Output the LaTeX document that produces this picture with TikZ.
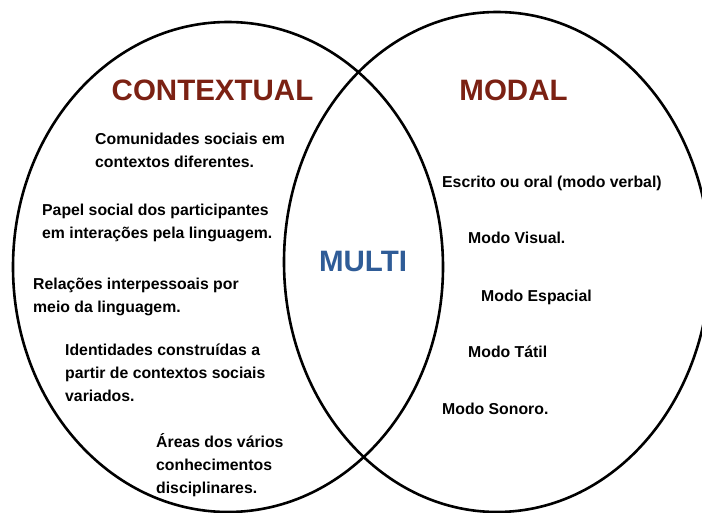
\documentclass[tikz,border=0pt]{standalone}
\usepackage{fontspec}
\setmainfont{Liberation Sans}
\definecolor{titlered}{HTML}{7B2113}
\definecolor{multiblue}{HTML}{2F5C97}
\tikzset{
  ring/.style={draw=black, line width=2.6pt},
  body/.style={font=\bfseries\fontsize{15.8}{23}\selectfont, align=left, anchor=base west, inner sep=0pt, text=black},
  title/.style={font=\bfseries\fontsize{29.5}{30}\selectfont, anchor=base, inner sep=0pt},
}
\begin{document}
\begin{tikzpicture}[x=1pt,y=-1pt]
\useasboundingbox (0,0) rectangle (702,513);
\begin{scope}
\clip (0,0) rectangle (702,513);
\draw[ring] (228,267) ellipse [x radius=215, y radius=245];
\draw[ring] (497,262) ellipse [x radius=213, y radius=250];
\end{scope}
\node[title, text=titlered] (ctx) at (212.5,101) {CONTEXTUAL};
\node[title, text=titlered] (mod) at (513.5,101) {MODAL};
\node[title, text=multiblue] (multi) at (363,272) {MULTI};
\node[body] (t1) at (95,167.5) {Comunidades sociais em\\contextos diferentes.};
\node[body] (t2) at (42,238.5) {Papel social dos participantes\\em interações pela linguagem.};
\node[body] (t3) at (33,312.5) {Relações interpessoais por\\meio da linguagem.};
\node[body] (t4) at (65,401.5) {Identidades construídas a\\partir de contextos sociais\\variados.};
\node[body] (t5) at (156,493.5) {Áreas dos vários\\conhecimentos\\disciplinares.};
\node[body] (m1) at (442,187.5) {Escrito ou oral (modo verbal)};
\node[body] (m2) at (468,243.5) {Modo Visual.};
\node[body] (m3) at (481,301.5) {Modo Espacial};
\node[body] (m4) at (468,357.5) {Modo Tátil};
\node[body] (m5) at (442,414.5) {Modo Sonoro.};
\end{tikzpicture}
\end{document}
